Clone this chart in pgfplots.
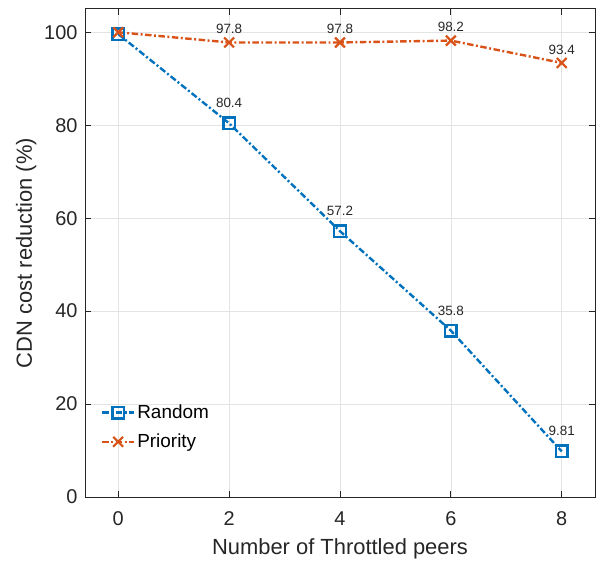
\documentclass[border=0pt]{standalone}
\usepackage{pgfplots}
\pgfplotsset{compat=1.18}
\usepackage{fontspec}
\setmainfont{Liberation Sans}
\definecolor{mblue}{rgb}{0,0.447,0.741}
\definecolor{morange}{rgb}{0.85,0.325,0.098}
\definecolor{mtext}{rgb}{0.15,0.15,0.15}
\begin{document}
\begin{tikzpicture}
\begin{axis}[
  scale only axis,
  width=510bp, height=488bp,
  xmin=-0.6, xmax=8.6, ymin=0, ymax=105,
  xtick={0,2,4,6,8}, ytick={0,20,40,60,80,100},
  grid=major,
  grid style={gray!22, line width=0.7pt},
  tick align=inside,
  major tick length=6pt,
  axis line style={mtext, line width=1pt},
  tick style={mtext, line width=0.8pt},
  /pgf/number format/assume math mode=true,
  ticklabel style={font=\fontsize{20}{24}\selectfont, text=mtext},
  xticklabel style={yshift=-11bp},
  yticklabel style={xshift=-4bp},
  xlabel={Number of Throttled peers},
  ylabel={CDN cost reduction (\%)},
  label style={font=\fontsize{22}{26}\selectfont, text=mtext},
  xlabel style={at={(axis description cs:0.5,0)}, anchor=north, yshift=-38bp},
  ylabel style={at={(axis description cs:0,0.5)}, anchor=south, yshift=45bp},
  legend style={draw=none, fill=none, at={(0.025,0.197)}, anchor=north west,
    font=\fontsize{19}{22}\selectfont, row sep=10pt,
    /tikz/every even column/.append style={column sep=2pt}},
  legend image code/.code={\draw[#1] (0bp,0bp) -- (32bp,0bp); \draw[#1, mark repeat=2, mark phase=2] plot coordinates {(0bp,0bp) (16bp,0bp) (32bp,0bp)};},
  legend cell align=left,
]
\coordinate (sw) at (rel axis cs:0,0);
\coordinate (ne) at (rel axis cs:1,1);
\addplot[color=mblue, line width=2.4pt, dash pattern=on 6.5pt off 2.5pt on 2pt off 2.5pt,
  mark=square, mark size=5.8pt, mark options={solid, line width=2.4pt}]
  coordinates {(0,99.6) (2,80.4) (4,57.2) (6,35.8) (8,9.81)};
\addlegendentry{Random}
\addplot[color=morange, line width=2.4pt, dash pattern=on 6.5pt off 2.5pt on 2pt off 2.5pt,
  mark=x, mark size=7pt, mark options={solid, line width=2.2pt}]
  coordinates {(0,100) (2,97.8) (4,97.8) (6,98.2) (8,93.4)};
\addlegendentry{Priority}
\addplot[draw=none, forget plot, nodes near coords, point meta=explicit symbolic,
  every node near coord/.append style={font=\fontsize{13.5}{16}\selectfont, text=mtext, yshift=12pt}]
  table[meta=l] {
x y l
2 80.4 80.4
4 57.2 57.2
6 35.8 35.8
8 9.81 9.81
};
\addplot[draw=none, forget plot, nodes near coords, point meta=explicit symbolic,
  every node near coord/.append style={font=\fontsize{13.5}{16}\selectfont, text=mtext, yshift=5pt}]
  table[meta=l] {
x y l
2 97.8 97.8
4 97.8 97.8
6 98.2 98.2
8 93.4 93.4
};
\end{axis}
\pgfresetboundingbox
\path ([shift={(-85bp,-74bp)}]sw) rectangle ([shift={(4bp,9bp)}]ne);
\end{tikzpicture}
\end{document}
